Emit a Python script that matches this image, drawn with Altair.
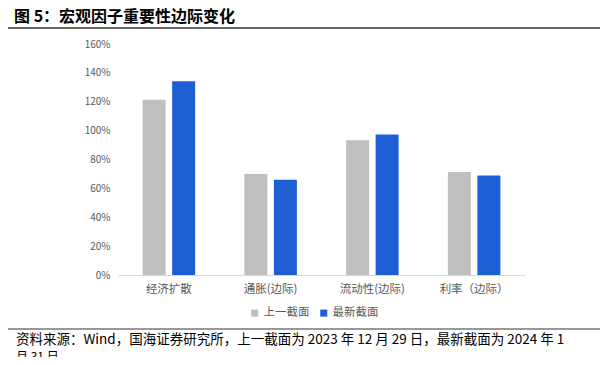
import altair as alt
import pandas as pd

categories = ["经济扩散", "通胀(边际)", "流动性(边际)", "利率（边际）"]
series = ["上一截面", "最新截面"]
prev_values = [1.213, 0.699, 0.933, 0.713]
latest_values = [1.342, 0.660, 0.974, 0.690]
y_ticks = [0, 0.2, 0.4, 0.6, 0.8, 1.0, 1.2, 1.4, 1.6]
colors = ["#BFBFBF", "#1F5FD6"]

title_text = "图 5：宏观因子重要性边际变化"
source_line1 = "资料来源：Wind，国海证券研究所，上一截面为 2023 年 12 月 29 日，最新截面为 2024 年 1"
source_line2 = "月 31 日"

rows = []
for c, p, l in zip(categories, prev_values, latest_values):
    rows.append({"cat": c, "series": series[0], "value": p})
    rows.append({"cat": c, "series": series[1], "value": l})
df = pd.DataFrame(rows)

W, H = 407, 231
FONT = "Noto Sans CJK SC"

bars = alt.Chart(df).mark_bar(size=23).encode(
    x=alt.X("cat:N", sort=categories, title=None,
            scale=alt.Scale(paddingInner=0, paddingOuter=0),
            axis=alt.Axis(labelAngle=0, ticks=False, domainColor="#D9D9D9",
                          labelColor="#595959", labelFont=FONT, labelFontSize=11.5,
                          labelPadding=8)),
    xOffset=alt.XOffset("series:N", sort=series,
                        scale=alt.Scale(paddingInner=0.22, paddingOuter=0.834)),
    y=alt.Y("value:Q", title=None,
            scale=alt.Scale(domain=[0, 1.6], nice=False),
            axis=alt.Axis(values=y_ticks, format=".0%", grid=False, domain=False,
                          ticks=False, labelColor="#595959", labelFont=FONT,
                          labelFontSize=10, labelPadding=8)),
    color=alt.Color("series:N", sort=series,
                    scale=alt.Scale(domain=series, range=colors),
                    legend=alt.Legend(title=None, orient="none", direction="horizontal",
                                      legendX=131, legendY=263, symbolType="square",
                                      symbolSize=50, symbolStrokeWidth=0,
                                      labelFont=FONT, labelFontSize=11.5,
                                      labelColor="#595959", columnPadding=8,
                                      labelOffset=3)),
)

title = alt.Chart(pd.DataFrame({"t": [title_text]})).mark_text(
    align="left", baseline="middle", font=FONT, fontSize=16, fontWeight="bold",
    color="#000000", clip=False
).encode(x=alt.value(-104), y=alt.value(-27.5), text="t:N")

top_rule = alt.Chart(pd.DataFrame({"a": [0]})).mark_rule(
    color="#333333", strokeWidth=1.5, clip=False
).encode(x=alt.value(-112), x2=alt.value(484), y=alt.value(-16))

bottom_rule = alt.Chart(pd.DataFrame({"a": [0]})).mark_rule(
    color="#333333", strokeWidth=1.2, clip=False
).encode(x=alt.value(-112), x2=alt.value(484), y=alt.value(285))

src1 = alt.Chart(pd.DataFrame({"t": [source_line1]})).mark_text(
    align="left", baseline="middle", font=FONT, fontSize=13.5, color="#000000", clip=False
).encode(x=alt.value(-102), y=alt.value(296), text="t:N")

src2 = alt.Chart(pd.DataFrame({"t": [source_line2]})).mark_text(
    align="left", baseline="middle", font=FONT, fontSize=12, color="#000000", clip=False
).encode(x=alt.value(-102), y=alt.value(313), text="t:N")

chart = alt.layer(bars, title, top_rule, bottom_rule, src1, src2).properties(
    width=W, height=H,
    autosize=alt.AutoSizeParams(type="none"),
    padding={"left": 110, "top": 36, "right": 75, "bottom": 82},
).configure_view(stroke=None)

chart.save("out.html", embed_options={"renderer": "svg", "actions": False})
